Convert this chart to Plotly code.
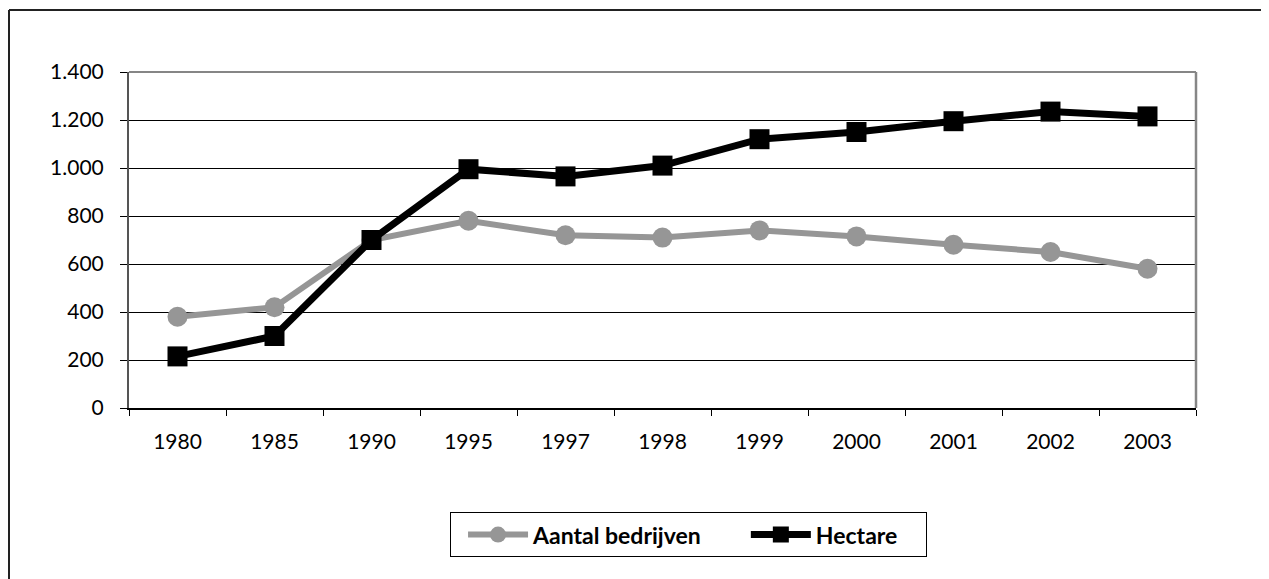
import plotly.graph_objects as go

years = ["1980", "1985", "1990", "1995", "1997", "1998", "1999", "2000", "2001", "2002", "2003"]
aantal_bedrijven = [380, 420, 700, 780, 720, 710, 740, 715, 680, 650, 580]
hectare = [215, 300, 700, 995, 965, 1010, 1120, 1150, 1195, 1235, 1215]
y_ticks = [0, 200, 400, 600, 800, 1000, 1200, 1400]
series_names = ["Aantal bedrijven", "Hectare"]

FONT = "Lato"
W, H = 1261, 571
L, T = 121, 64
PW, PH = 1067, 336
NB = "\u00a0"

fig = go.Figure()
fig.add_trace(go.Scatter(
    x=years, y=aantal_bedrijven, name=series_names[0] + NB * 7, mode="lines+markers",
    line=dict(color="#969696", width=6),
    marker=dict(symbol="circle", size=20, color="#969696"),
))
fig.add_trace(go.Scatter(
    x=years, y=hectare, name=series_names[1] + NB * 4, mode="lines+markers",
    line=dict(color="#000000", width=7),
    marker=dict(symbol="square", size=20, color="#000000"),
))

# chart outer border (left and top visible)
bx = (1 - L) / PW
by = (T + PH - 2) / PH
fig.add_shape(type="line", xref="paper", yref="paper", x0=bx, x1=bx, y0=-0.6, y1=by,
              line=dict(color="#222222", width=2))
fig.add_shape(type="line", xref="paper", yref="paper", x0=bx, x1=1.2, y0=by, y1=by,
              line=dict(color="#222222", width=2))
# plot area top/right gray border
fig.add_shape(type="line", xref="paper", yref="paper", x0=0, x1=1, y0=1, y1=1,
              line=dict(color="#868686", width=2))
fig.add_shape(type="line", xref="paper", yref="paper", x0=1, x1=1, y0=0, y1=1,
              line=dict(color="#868686", width=2.5))

fig.update_layout(
    width=W, height=H,
    margin=dict(l=L, r=W - L - PW, t=T, b=H - T - PH),
    paper_bgcolor="white", plot_bgcolor="white",
    separators=",.",
    font=dict(family=FONT, size=21, color="#000000"),
    showlegend=True,
    legend=dict(
        orientation="h", x=0.524, xanchor="center", y=-0.31, yanchor="top",
        bordercolor="#000000", borderwidth=1, bgcolor="white",
        font=dict(family=FONT, size=23, color="#000000", weight="bold"),
        itemwidth=60, entrywidth=0,
        title=dict(text=NB, side="left", font=dict(size=10)),
    ),
    xaxis=dict(
        type="category", categoryorder="array", categoryarray=years,
        range=[-0.5, len(years) - 0.5],
        showgrid=False, showline=True, linecolor="#000000", linewidth=1.5,
        ticks="outside", tickson="boundaries", ticklen=6, tickcolor="#000000",
        tickfont=dict(family=FONT, size=21), ticklabelstandoff=14,
        fixedrange=True,
    ),
    yaxis=dict(
        range=[0, 1400], tickvals=y_ticks, tickformat=",d",
        showgrid=True, gridcolor="#000000", gridwidth=1,
        showline=True, linecolor="#555555", linewidth=2,
        ticks="outside", ticklen=7, tickcolor="#000000",
        tickfont=dict(family=FONT, size=21), ticklabelstandoff=12,
        zeroline=False, fixedrange=True,
    ),
)
fig.write_html("out.html")
